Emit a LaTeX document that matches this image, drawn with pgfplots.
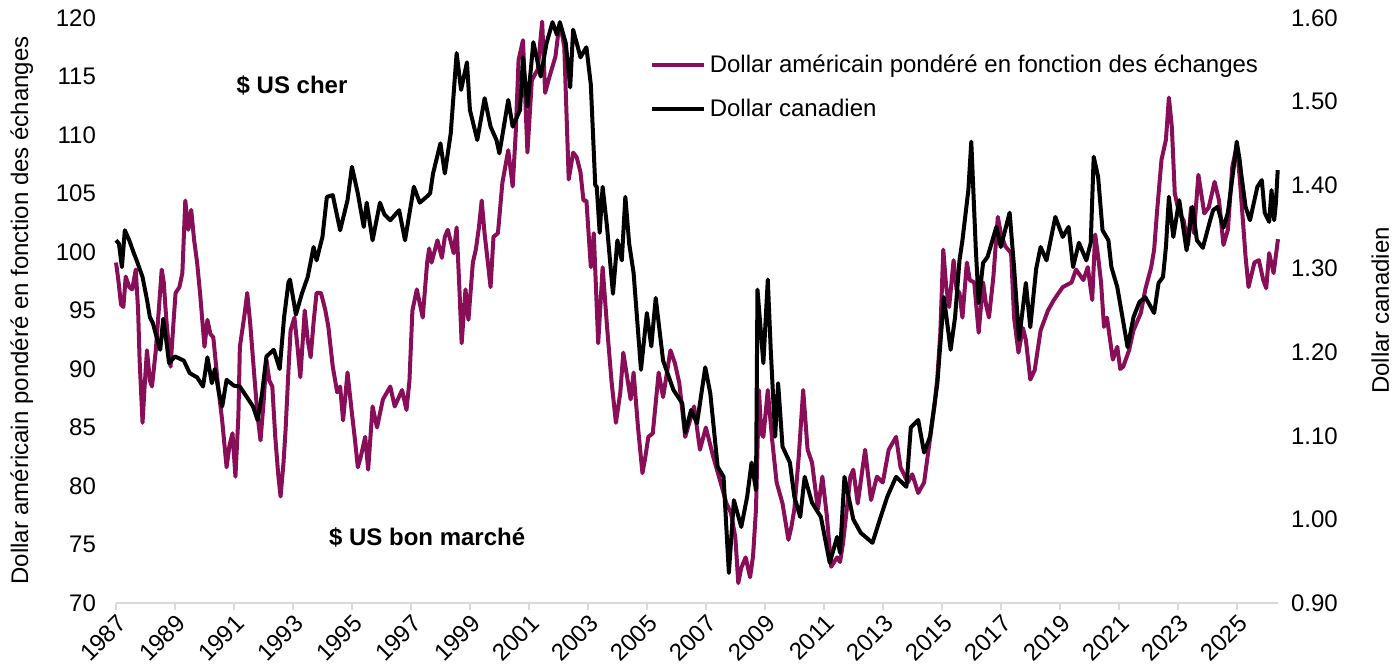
\documentclass[border=0pt]{standalone}
\usepackage{fontspec}
\setmainfont{Liberation Sans}
\usepackage{pgfplots}
\pgfplotsset{compat=1.18}
\definecolor{usd}{RGB}{137,14,88}
\definecolor{axgray}{RGB}{217,217,217}

\pgfplotstableread{
x y
1987.00 99.1
1987.08 97.6
1987.17 95.5
1987.25 95.3
1987.33 97.9
1987.45 97.0
1987.55 96.8
1987.67 98.5
1987.75 95.0
1987.80 90.8
1987.90 85.4
1987.97 88.5
1988.05 91.6
1988.15 89.0
1988.22 88.5
1988.35 91.6
1988.45 95.0
1988.55 98.5
1988.62 97.4
1988.70 94.4
1988.85 90.2
1988.95 94.0
1989.02 96.5
1989.15 97.0
1989.25 98.2
1989.35 104.4
1989.45 101.9
1989.55 103.6
1989.65 101.0
1989.75 99.1
1989.85 96.5
1990.00 91.9
1990.10 94.2
1990.20 93.0
1990.30 92.7
1990.45 88.8
1990.60 85.6
1990.75 81.6
1990.85 83.5
1990.95 84.5
1991.05 80.8
1991.15 86.0
1991.20 91.9
1991.35 94.5
1991.45 96.5
1991.55 93.9
1991.70 89.1
1991.80 86.0
1991.90 83.9
1992.00 87.0
1992.10 90.8
1992.20 89.0
1992.30 88.5
1992.40 84.2
1992.50 81.0
1992.58 79.1
1992.68 82.0
1992.75 84.8
1992.85 90.0
1992.92 93.3
1993.05 94.4
1993.15 92.0
1993.25 89.3
1993.40 95.0
1993.50 92.5
1993.60 91.0
1993.70 94.0
1993.80 96.5
1993.95 96.5
1994.10 95.0
1994.20 93.6
1994.35 90.2
1994.50 88.0
1994.60 88.5
1994.70 85.6
1994.85 89.7
1995.00 86.2
1995.10 84.0
1995.20 81.6
1995.30 82.5
1995.45 84.2
1995.55 81.4
1995.70 86.8
1995.85 85.0
1996.05 87.4
1996.30 88.5
1996.45 86.8
1996.70 88.2
1996.85 86.5
1996.95 89.0
1997.05 95.0
1997.20 96.8
1997.40 94.4
1997.55 99.1
1997.62 100.3
1997.70 99.1
1997.90 101.0
1998.05 99.5
1998.15 101.3
1998.25 101.9
1998.45 99.9
1998.55 102.1
1998.65 96.5
1998.72 92.2
1998.85 96.8
1998.95 94.2
1999.10 99.1
1999.20 100.2
1999.30 102.0
1999.40 104.4
1999.50 101.5
1999.60 99.3
1999.70 97.0
1999.80 101.3
1999.95 101.6
2000.10 105.9
2000.30 108.7
2000.45 105.6
2000.55 110.0
2000.65 116.4
2000.80 118.1
2000.95 108.5
2001.10 114.7
2001.30 115.6
2001.45 119.7
2001.55 113.6
2001.70 115.0
2001.90 116.7
2002.00 118.8
2002.10 119.0
2002.20 117.5
2002.35 106.2
2002.50 108.5
2002.62 108.1
2002.75 106.8
2002.85 104.4
2002.95 104.4
2003.10 98.7
2003.20 101.6
2003.35 92.2
2003.50 98.7
2003.65 93.6
2003.80 89.0
2003.95 85.4
2004.10 88.0
2004.20 91.4
2004.35 89.0
2004.45 87.4
2004.55 89.7
2004.70 85.0
2004.85 81.1
2004.95 82.5
2005.05 84.2
2005.20 84.5
2005.40 89.7
2005.55 87.6
2005.80 91.6
2005.95 90.5
2006.10 88.8
2006.30 84.2
2006.45 85.5
2006.60 86.8
2006.80 83.1
2007.00 85.0
2007.25 82.5
2007.50 80.3
2007.70 78.5
2007.85 77.7
2008.00 75.6
2008.10 71.7
2008.20 73.0
2008.35 73.9
2008.50 72.2
2008.60 74.0
2008.70 78.0
2008.80 88.2
2008.88 84.5
2008.95 84.2
2009.10 88.2
2009.25 83.9
2009.40 80.3
2009.60 78.5
2009.80 75.4
2009.90 76.5
2010.00 78.0
2010.15 82.5
2010.30 88.2
2010.45 83.1
2010.60 82.0
2010.80 78.0
2010.95 80.8
2011.10 77.5
2011.25 73.1
2011.45 73.9
2011.55 73.5
2011.65 75.1
2011.80 78.5
2011.90 80.8
2012.00 81.4
2012.15 78.5
2012.40 83.1
2012.60 78.8
2012.80 80.8
2013.00 80.3
2013.20 83.1
2013.45 84.2
2013.60 81.6
2013.85 80.3
2014.00 81.0
2014.20 79.4
2014.40 80.3
2014.55 83.1
2014.75 86.8
2014.85 89.3
2014.95 93.1
2015.05 100.2
2015.15 97.0
2015.25 95.3
2015.40 99.3
2015.50 96.8
2015.60 96.5
2015.70 94.4
2015.85 99.1
2015.95 97.6
2016.10 97.4
2016.25 93.1
2016.40 97.4
2016.50 95.5
2016.60 94.4
2016.75 97.9
2016.90 103.0
2017.00 101.6
2017.15 100.5
2017.35 99.9
2017.45 94.4
2017.60 91.4
2017.75 93.5
2017.85 92.5
2018.00 89.1
2018.15 89.9
2018.35 93.3
2018.60 95.0
2018.80 95.9
2019.10 97.0
2019.40 97.4
2019.55 98.5
2019.80 97.6
2019.95 98.7
2020.10 95.9
2020.20 101.5
2020.30 99.6
2020.40 97.4
2020.50 93.6
2020.60 94.4
2020.80 90.8
2020.95 91.9
2021.05 90.0
2021.15 90.2
2021.35 91.6
2021.50 93.3
2021.75 94.8
2021.90 96.8
2022.10 98.7
2022.20 100.2
2022.30 103.5
2022.45 107.9
2022.60 109.6
2022.70 113.2
2022.80 110.7
2022.90 105.0
2023.05 103.3
2023.20 102.7
2023.35 100.6
2023.45 103.8
2023.55 101.6
2023.70 106.6
2023.90 103.3
2024.05 103.8
2024.25 106.0
2024.40 104.4
2024.55 100.6
2024.70 101.9
2024.85 107.3
2025.00 109.0
2025.10 106.4
2025.20 103.0
2025.30 99.6
2025.40 97.0
2025.60 99.1
2025.75 99.3
2025.90 97.6
2026.00 96.9
2026.10 99.9
2026.25 98.2
2026.40 101.1
}\usdtable

\pgfplotstableread{
x y
1987.00 1.334
1987.10 1.330
1987.20 1.302
1987.30 1.346
1987.45 1.334
1987.60 1.319
1987.70 1.310
1987.80 1.300
1987.90 1.290
1988.05 1.263
1988.15 1.242
1988.25 1.235
1988.40 1.215
1988.50 1.203
1988.60 1.240
1988.70 1.215
1988.80 1.187
1989.00 1.195
1989.30 1.190
1989.50 1.175
1989.75 1.170
1989.95 1.159
1990.10 1.194
1990.25 1.163
1990.35 1.180
1990.50 1.150
1990.60 1.135
1990.75 1.167
1991.00 1.160
1991.20 1.159
1991.50 1.143
1991.65 1.135
1991.80 1.119
1991.95 1.150
1992.10 1.195
1992.35 1.203
1992.55 1.180
1992.70 1.242
1992.85 1.284
1992.90 1.287
1993.10 1.245
1993.30 1.270
1993.50 1.290
1993.70 1.326
1993.80 1.310
1994.00 1.338
1994.15 1.386
1994.35 1.388
1994.60 1.346
1994.85 1.382
1995.00 1.422
1995.20 1.390
1995.40 1.350
1995.50 1.379
1995.70 1.334
1995.95 1.379
1996.10 1.365
1996.30 1.358
1996.60 1.370
1996.80 1.334
1997.10 1.398
1997.30 1.379
1997.50 1.385
1997.65 1.390
1997.75 1.414
1998.00 1.450
1998.15 1.414
1998.35 1.462
1998.55 1.558
1998.70 1.514
1998.90 1.547
1999.00 1.490
1999.25 1.454
1999.50 1.504
1999.70 1.470
1999.90 1.454
2000.00 1.438
2000.30 1.502
2000.45 1.470
2000.70 1.490
2000.80 1.553
2000.95 1.494
2001.15 1.571
2001.40 1.530
2001.60 1.570
2001.80 1.595
2001.95 1.580
2002.05 1.595
2002.25 1.570
2002.40 1.517
2002.50 1.586
2002.75 1.553
2002.95 1.565
2003.10 1.520
2003.25 1.400
2003.30 1.398
2003.40 1.343
2003.50 1.398
2003.65 1.350
2003.85 1.270
2004.00 1.334
2004.15 1.310
2004.27 1.386
2004.40 1.330
2004.55 1.295
2004.80 1.179
2005.00 1.247
2005.15 1.207
2005.30 1.265
2005.55 1.190
2005.90 1.155
2006.20 1.139
2006.30 1.104
2006.50 1.131
2006.70 1.115
2006.98 1.182
2007.15 1.151
2007.40 1.063
2007.60 1.051
2007.78 0.936
2007.95 1.023
2008.20 0.991
2008.40 1.027
2008.55 1.068
2008.70 1.035
2008.75 1.275
2008.95 1.187
2009.10 1.287
2009.20 1.203
2009.35 1.099
2009.45 1.163
2009.60 1.087
2009.85 1.068
2010.00 1.027
2010.20 1.003
2010.35 1.051
2010.60 1.020
2010.90 1.003
2011.20 0.948
2011.45 0.979
2011.55 0.960
2011.70 1.051
2012.00 1.000
2012.25 0.984
2012.65 0.972
2012.90 1.000
2013.15 1.027
2013.45 1.051
2013.80 1.039
2013.95 1.110
2014.20 1.119
2014.40 1.080
2014.60 1.099
2014.85 1.163
2015.07 1.266
2015.30 1.203
2015.45 1.242
2015.60 1.310
2015.70 1.334
2015.90 1.394
2016.00 1.452
2016.15 1.326
2016.25 1.259
2016.40 1.307
2016.55 1.314
2016.85 1.350
2017.00 1.326
2017.30 1.367
2017.45 1.302
2017.62 1.215
2017.85 1.283
2018.00 1.230
2018.20 1.300
2018.35 1.326
2018.55 1.310
2018.85 1.362
2019.10 1.338
2019.30 1.350
2019.45 1.302
2019.65 1.331
2019.90 1.310
2020.05 1.331
2020.15 1.434
2020.30 1.410
2020.45 1.346
2020.65 1.334
2020.75 1.302
2020.95 1.278
2021.30 1.206
2021.50 1.242
2021.70 1.260
2021.90 1.266
2022.20 1.247
2022.35 1.283
2022.50 1.290
2022.60 1.326
2022.70 1.386
2022.85 1.338
2023.05 1.382
2023.30 1.322
2023.50 1.374
2023.65 1.334
2023.85 1.325
2024.10 1.358
2024.20 1.370
2024.35 1.374
2024.55 1.349
2024.70 1.367
2024.90 1.422
2025.00 1.452
2025.10 1.430
2025.15 1.414
2025.30 1.374
2025.45 1.358
2025.70 1.398
2025.85 1.406
2025.95 1.367
2026.10 1.356
2026.18 1.394
2026.27 1.358
2026.33 1.379
2026.39 1.418
}\cadtable

\begin{document}
\begin{tikzpicture}[font=\fontsize{12}{14.4}\selectfont]
\useasboundingbox (-58pt,-32pt) rectangle (640pt,301.5pt);
\begin{axis}[
  at={(0pt,0pt)}, anchor=south west, scale only axis,
  width=581pt, height=292.5pt,
  xmin=1987, xmax=2026.4, ymin=70, ymax=120,
  axis x line*=bottom, axis y line*=left,
  x axis line style={axgray, line width=1pt},
  y axis line style={draw=none},
  xtick={1987,1989,...,2025},
  xtick style={axgray, line width=1pt},
  ytick={70,75,...,120},
  ytick style={draw=none},
  tick align=outside, major tick length=3.5pt,
  /pgf/number format/.cd, 1000 sep={}, assume math mode=true, /pgfplots/.cd,
  xticklabel style={rotate=45, anchor=north east, inner sep=1pt},
  yticklabel style={xshift=-3pt},
  ylabel={Dollar américain pondéré en fonction des échanges},
  ylabel style={at={(axis description cs:-0.081,0.5)}, anchor=center},
  clip=false,
]
\addplot[usd, line width=2pt, line join=round] table[x=x,y=y] {\usdtable};
\node[font=\fontsize{12}{14.4}\selectfont\bfseries] at (axis cs:1992.97,114.27) {\$ US cher};
\node[font=\fontsize{12}{14.4}\selectfont\bfseries] at (axis cs:1997.55,75.64) {\$ US bon marché};
\end{axis}
\begin{axis}[
  at={(0pt,0pt)}, anchor=south west, scale only axis,
  width=581pt, height=292.5pt,
  xmin=1987, xmax=2026.4, ymin=0.9, ymax=1.6,
  axis x line=none, axis y line*=right,
  y axis line style={draw=none},
  ytick={0.9,1,1.1,1.2,1.3,1.4,1.5,1.6},
  ytick style={draw=none},
  yticklabel style={/pgf/number format/.cd, fixed, fixed zerofill, precision=2, assume math mode=true, /tikz/.cd, xshift=3pt},
  ylabel={Dollar canadien},
  ylabel style={at={(axis description cs:1.088,0.5)}, anchor=center},
  legend style={at={(0.459,0.945)}, anchor=north west, draw=none, fill=none,
    row sep=8pt, inner sep=0pt, nodes={inner sep=2pt}},
  legend cell align=left,
  legend image code/.code={\draw[#1] (0pt,0pt) -- (26pt,0pt);},
  clip=false,
]
\addlegendimage{usd, line width=2pt}
\addlegendentry{Dollar américain pondéré en fonction des échanges}
\addplot[black, line width=2pt, line join=round] table[x=x,y=y] {\cadtable};
\addlegendentry{Dollar canadien}
\end{axis}
\end{tikzpicture}
\end{document}
